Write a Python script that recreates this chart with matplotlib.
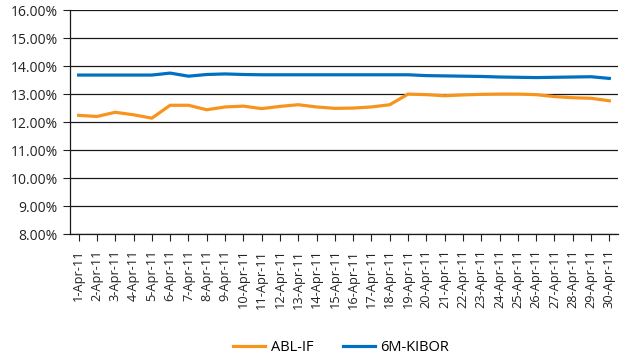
import matplotlib
matplotlib.use("Agg")
import matplotlib.pyplot as plt
from matplotlib.ticker import FuncFormatter, FixedLocator

dates = [f"{d}-Apr-11" for d in range(1, 31)]
abl_if = [12.25, 12.21, 12.36, 12.27, 12.15, 12.61, 12.61, 12.45, 12.55, 12.58,
          12.49, 12.57, 12.63, 12.55, 12.50, 12.51, 12.55, 12.63, 13.01, 12.99,
          12.95, 12.98, 13.00, 13.01, 13.01, 12.99, 12.92, 12.88, 12.86, 12.77]
kibor = [13.69, 13.69, 13.69, 13.69, 13.69, 13.76, 13.65, 13.71, 13.73, 13.71,
         13.70, 13.70, 13.70, 13.70, 13.70, 13.70, 13.70, 13.70, 13.70, 13.67,
         13.66, 13.65, 13.64, 13.62, 13.61, 13.60, 13.61, 13.62, 13.63, 13.57]
yticks = [8, 9, 10, 11, 12, 13, 14, 15, 16]

plt.rcParams['font.family'] = ['Open Sans', 'DejaVu Sans']

fig = plt.figure(figsize=(6.26, 3.59), dpi=100)
ax = fig.add_axes([0.1125, 0.3474, 0.8755, 0.6236])

x = list(range(len(dates)))
ax.plot(x, abl_if, color='#F7941E', lw=2.3, label='ABL-IF', solid_joinstyle='round')
ax.plot(x, kibor, color='#0070C0', lw=2.3, label='6M-KIBOR', solid_joinstyle='round')

ax.set_ylim(8, 16)
ax.set_xlim(-0.45, 29.5)
ax.yaxis.set_major_locator(FixedLocator(yticks))
ax.yaxis.set_major_formatter(FuncFormatter(lambda v, p: f"{v:.2f}%"))
ax.grid(axis='y', color='#1a1a1a', lw=0.9)
ax.set_axisbelow(True)

ax.set_xticks(x)
ax.set_xticklabels(dates, rotation=90, fontsize=9.2, color='#222222')
ax.tick_params(axis='x', direction='out', length=5, width=0.8, color='#222222', pad=6)
ax.tick_params(axis='y', direction='out', length=5, width=0.8, color='#222222',
               labelsize=10, labelcolor='#222222', pad=4)

for s in ['top', 'right']:
    ax.spines[s].set_visible(False)
for s in ['left', 'bottom']:
    ax.spines[s].set_color('#1a1a1a')
    ax.spines[s].set_linewidth(0.9)

fig.legend(loc='center', bbox_to_anchor=(0.545, 0.032), ncol=2, frameon=False,
           fontsize=10.5, handlelength=2.2, columnspacing=2.0, handletextpad=0.4)

fig.savefig("out.png", dpi=100)
